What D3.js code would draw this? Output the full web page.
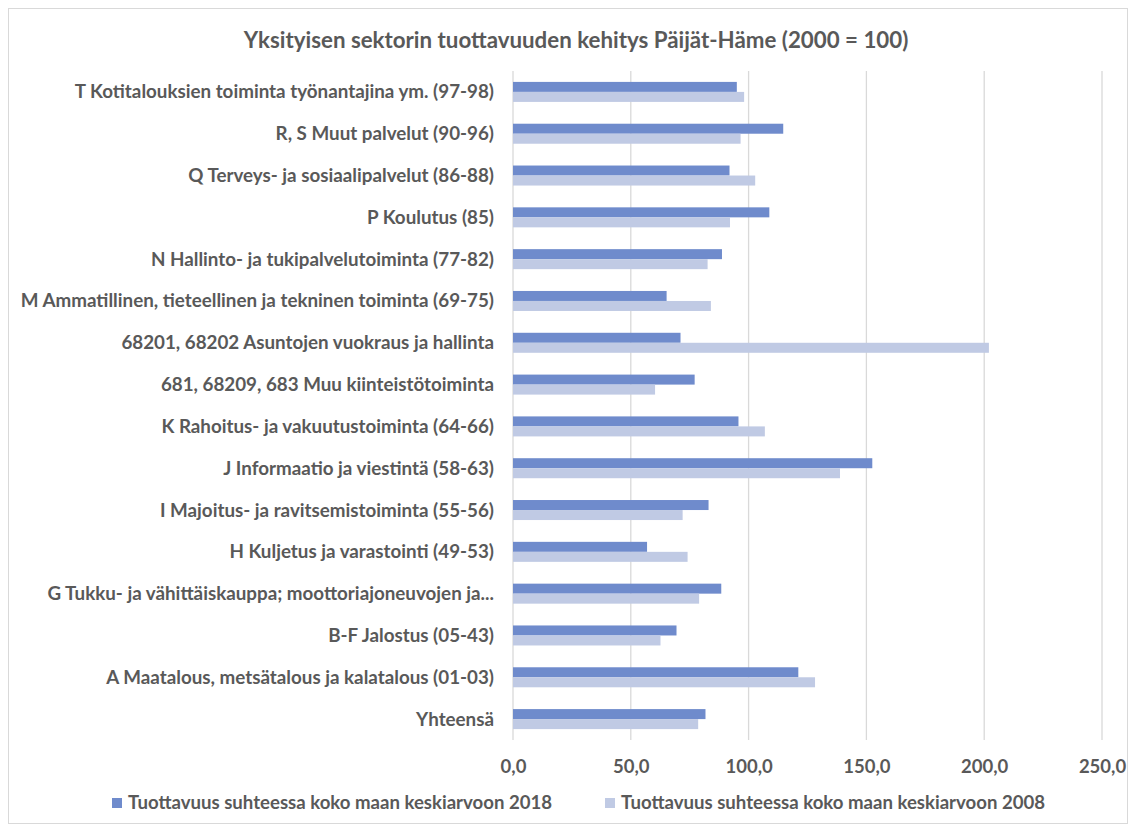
<!DOCTYPE html>
<html>
<head>
<meta charset="utf-8">
<script src="https://cdn.jsdelivr.net/npm/d3@7"></script>
<style>
  body { margin: 0; background: #fff; }
  svg text { font-family: Lato, "Open Sans", sans-serif; font-weight: bold; fill: #595959; }
</style>
</head>
<body>
<svg id="chart" width="1133" height="827"></svg>
<script>
let color2018 = "#6F8BCC";
let color2008 = "#C0CAE4";
let gridColor = "#D9D9D9";

const categories = [
  "T Kotitalouksien toiminta työnantajina ym. (97-98)",
  "R, S Muut palvelut (90-96)",
  "Q Terveys- ja sosiaalipalvelut (86-88)",
  "P Koulutus (85)",
  "N Hallinto- ja tukipalvelutoiminta (77-82)",
  "M Ammatillinen, tieteellinen ja tekninen toiminta (69-75)",
  "68201, 68202 Asuntojen vuokraus ja hallinta",
  "681, 68209, 683 Muu kiinteistötoiminta",
  "K Rahoitus- ja vakuutustoiminta (64-66)",
  "J Informaatio ja viestintä (58-63)",
  "I Majoitus- ja ravitsemistoiminta (55-56)",
  "H Kuljetus ja varastointi (49-53)",
  "G Tukku- ja vähittäiskauppa; moottoriajoneuvojen ja...",
  "B-F Jalostus (05-43)",
  "A Maatalous, metsätalous ja kalatalous (01-03)",
  "Yhteensä"
];

const values2018 = [95.0, 114.7, 91.9, 108.8, 88.7, 65.2, 71.1, 77.1, 95.7, 152.5, 83.0, 56.9, 88.4, 69.4, 121.1, 81.7];
const values2008 = [98.1, 96.6, 102.8, 92.1, 82.6, 84.0, 202.0, 60.3, 106.9, 138.8, 72.0, 74.1, 79.0, 62.6, 128.2, 78.6];

const seriesNames = [
  "Tuottavuus suhteessa koko maan keskiarvoon 2018",
  "Tuottavuus suhteessa koko maan keskiarvoon 2008"
];
const xTicks = [0, 50, 100, 150, 200, 250];

const series = [
  { name: seriesNames[0], values: values2018, color: color2018 },
  { name: seriesNames[1], values: values2008, color: color2008 }
];

const svg = d3.select("#chart");
const margin = { top: 71, right: 31, bottom: 87, left: 513 };
const width = 1133, height = 827;

// chart frame
svg.append("rect")
  .attr("x", 8.5).attr("y", 8.5)
  .attr("width", width - 14).attr("height", height - 12)
  .attr("fill", "none")
  .attr("stroke", "#D9D9D9");

const xScale = d3.scaleLinear()
  .domain([0, 250])
  .range([margin.left, width - margin.right]);

const yScale = d3.scaleBand()
  .domain(categories)
  .range([margin.top, height - margin.bottom]);

const inner = d3.scaleBand()
  .domain([0, 1])
  .range([0, yScale.bandwidth()])
  .paddingInner(0)
  .paddingOuter(1.09);

// gridlines
svg.append("g")
  .selectAll("line")
  .data(xTicks)
  .join("line")
  .attr("x1", d => xScale(d)).attr("x2", d => xScale(d))
  .attr("y1", margin.top).attr("y2", height - margin.bottom)
  .attr("stroke", gridColor)
  .attr("stroke-width", 1.3);

// bars
series.forEach((s, i) => {
  svg.append("g")
    .selectAll("rect")
    .data(s.values)
    .join("rect")
    .attr("x", xScale(0))
    .attr("y", (d, j) => yScale(categories[j]) + inner(i))
    .attr("width", d => xScale(d) - xScale(0))
    .attr("height", inner.bandwidth())
    .attr("fill", s.color);
});

// x axis labels
const xAxis = svg.append("g")
  .attr("transform", `translate(0, ${height - margin.bottom})`)
  .call(d3.axisBottom(xScale).tickValues(xTicks).tickSize(0).tickPadding(20)
    .tickFormat(d => d3.format(".1f")(d).replace(".", ",")));
xAxis.select(".domain").remove();
xAxis.selectAll("text")
  .style("font-size", "18.5px")
  .style("font-family", "Lato, sans-serif")
  .attr("fill", "#595959");

// category labels
svg.append("g")
  .selectAll("text")
  .data(categories)
  .join("text")
  .attr("x", 494)
  .attr("y", d => yScale(d) + yScale.bandwidth() / 2 + 6.5)
  .attr("text-anchor", "end")
  .style("font-size", "18.8px")
  .text(d => d);

// title
svg.append("text")
  .attr("x", 576)
  .attr("y", 48)
  .attr("text-anchor", "middle")
  .style("font-size", "22.3px")
  .text("Yksityisen sektorin tuottavuuden kehitys Päijät-Häme (2000 = 100)");

// legend
const legendX = [112, 605];
series.forEach((s, i) => {
  const g = svg.append("g").attr("transform", `translate(${legendX[i]}, 798)`);
  g.append("rect").attr("width", 10).attr("height", 10).attr("fill", s.color);
  g.append("text")
    .attr("x", 16).attr("y", 11)
    .style("font-size", "18.6px")
    .text(s.name);
});
</script>
</body>
</html>
